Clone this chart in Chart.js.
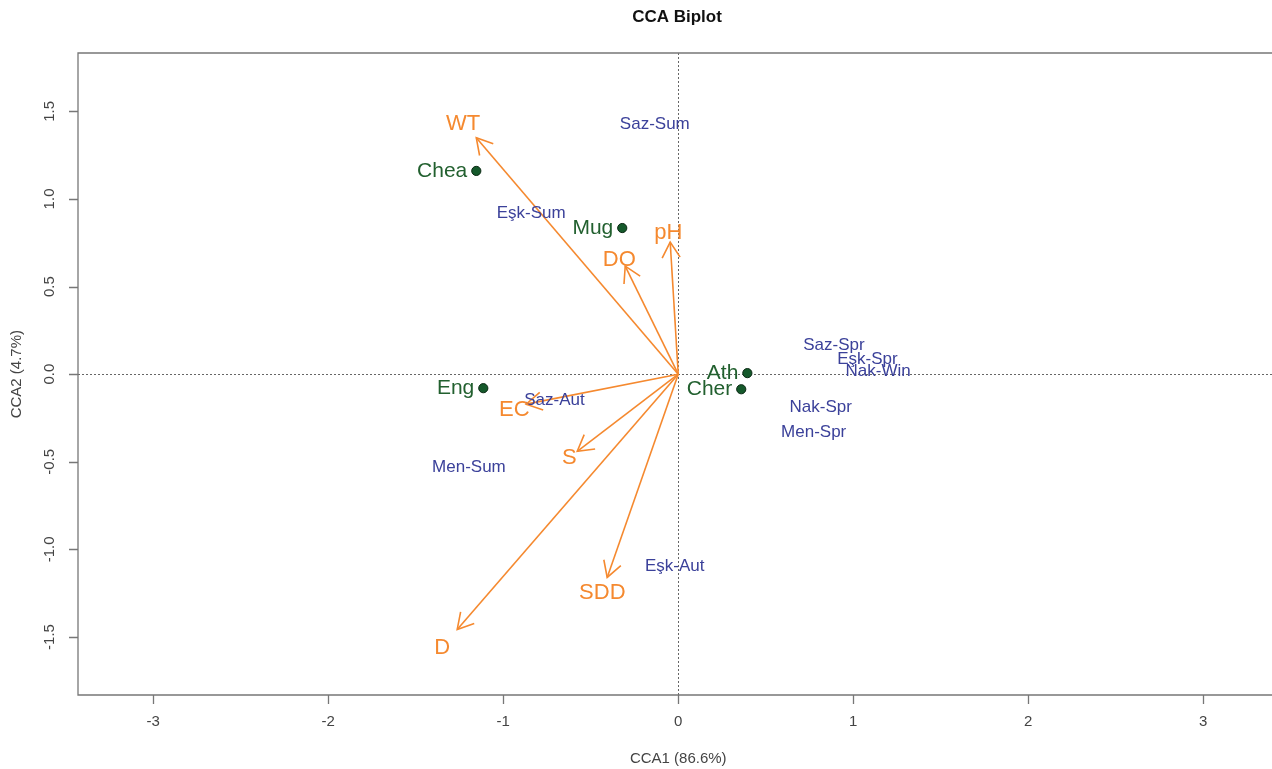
<!DOCTYPE html>
<html>
<head>
<meta charset="utf-8">
<script src="https://cdn.jsdelivr.net/npm/chart.js@4"></script>
<style>
  html, body { margin: 0; padding: 0; background: #fff; overflow: hidden; }
  #wrap { width: 1272px; height: 769px; }
</style>
</head>
<body>
<div id="wrap"><canvas id="cca" width="1272" height="769"></canvas></div>
<script>
// species scores (green dots)
var speciesNames = ["Chea", "Mug", "Ath", "Cher", "Eng"];
var speciesX = [-1.154, -0.32, 0.395, 0.36, -1.114];
var speciesY = [1.16, 0.834, 0.006, -0.086, -0.08];

// site scores (blue labels)
var siteNames = ["Saz-Sum", "Eşk-Sum", "Saz-Aut", "Men-Sum", "Eşk-Aut", "Saz-Spr", "Eşk-Spr", "Nak-Win", "Nak-Spr", "Men-Spr"];
var siteX = [-0.134, -0.84, -0.707, -1.196, -0.02, 0.89, 1.081, 1.142, 0.814, 0.774];
var siteY = [1.426, 0.918, -0.149, -0.531, -1.095, 0.166, 0.086, 0.017, -0.189, -0.331];

// environmental variables (orange arrows)
var envNames = ["WT", "pH", "DO", "EC", "S", "SDD", "D"];
var envX = [-1.154, -0.046, -0.303, -0.869, -0.577, -0.406, -1.263];
var envY = [1.349, 0.754, 0.617, -0.171, -0.44, -1.16, -1.457];
var envLabelX = [-1.229, -0.057, -0.337, -0.937, -0.623, -0.434, -1.349];
var envLabelY = [1.429, 0.806, 0.651, -0.206, -0.48, -1.246, -1.56];

// axes
var xTicks = [-3, -2, -1, 0, 1, 2, 3];
var yTicks = [-1.5, -1.0, -0.5, 0.0, 0.5, 1.0, 1.5];
var xTickLabels = ["-3", "-2", "-1", "0", "1", "2", "3"];
var yTickLabels = ["-1.5", "-1.0", "-0.5", "0.0", "0.5", "1.0", "1.5"];

var ORANGE = "#f5892f";
var BLUE = "#3b419a";
var GREEN = "#22602f";
var FONT = "'Liberation Sans', Arial, sans-serif";

var datasets = [];
for (var i = 0; i < envNames.length; i++) {
    datasets.push({
        label: envNames[i],
        data: [{x: 0, y: 0}, {x: envX[i], y: envY[i]}],
        showLine: true,
        borderColor: ORANGE,
        borderWidth: 1.6,
        pointRadius: 0
    });
}
datasets.push({
    label: "sites",
    data: siteX.map(function(v, i) { return {x: v, y: siteY[i]}; }),
    pointRadius: 0
});
datasets.push({
    label: "species",
    data: speciesX.map(function(v, i) { return {x: v, y: speciesY[i]}; }),
    pointRadius: 4.6,
    backgroundColor: "#15592b",
    borderColor: "#0b2a14",
    borderWidth: 1
});

var biplot = {
    id: "biplot",
    beforeDraw: function(chart) {
        var ctx = chart.ctx;
        ctx.save();
        ctx.fillStyle = "#fff";
        ctx.fillRect(0, 0, chart.width, chart.height);
        ctx.restore();
    },
    beforeDatasetsDraw: function(chart) {
        var ctx = chart.ctx, a = chart.chartArea;
        var xs = chart.scales.x, ys = chart.scales.y;
        var x0 = xs.getPixelForValue(0), y0 = ys.getPixelForValue(0);
        ctx.save();
        ctx.strokeStyle = "#666";
        ctx.lineWidth = 1;
        ctx.setLineDash([2, 2]);
        ctx.beginPath();
        ctx.moveTo(Math.round(x0) + 0.5, a.top);
        ctx.lineTo(Math.round(x0) + 0.5, a.bottom);
        ctx.moveTo(a.left, Math.round(y0) + 0.5);
        ctx.lineTo(a.right, Math.round(y0) + 0.5);
        ctx.stroke();
        ctx.restore();
    },
    afterDatasetsDraw: function(chart) {
        var ctx = chart.ctx, a = chart.chartArea;
        var xs = chart.scales.x, ys = chart.scales.y;
        var x0 = xs.getPixelForValue(0), y0 = ys.getPixelForValue(0);
        ctx.save();

        // arrow heads
        ctx.strokeStyle = ORANGE;
        ctx.lineWidth = 1.6;
        for (var i = 0; i < envNames.length; i++) {
            var tx = xs.getPixelForValue(envX[i]), ty = ys.getPixelForValue(envY[i]);
            var ang = Math.atan2(y0 - ty, x0 - tx);
            var len = 18, spread = Math.PI / 6;
            ctx.beginPath();
            ctx.moveTo(tx + len * Math.cos(ang + spread), ty + len * Math.sin(ang + spread));
            ctx.lineTo(tx, ty);
            ctx.lineTo(tx + len * Math.cos(ang - spread), ty + len * Math.sin(ang - spread));
            ctx.stroke();
        }

        // site labels
        ctx.textAlign = "center";
        ctx.textBaseline = "middle";
        ctx.fillStyle = BLUE;
        ctx.font = "17px " + FONT;
        for (var i = 0; i < siteNames.length; i++) {
            ctx.fillText(siteNames[i], xs.getPixelForValue(siteX[i]), ys.getPixelForValue(siteY[i]));
        }

        // species labels, left of the dot
        ctx.textAlign = "right";
        ctx.fillStyle = GREEN;
        ctx.font = "21px " + FONT;
        for (var i = 0; i < speciesNames.length; i++) {
            ctx.fillText(speciesNames[i], xs.getPixelForValue(speciesX[i]) - 9, ys.getPixelForValue(speciesY[i]));
        }

        // variable labels
        ctx.textAlign = "center";
        ctx.fillStyle = ORANGE;
        ctx.font = "22px " + FONT;
        for (var i = 0; i < envNames.length; i++) {
            ctx.fillText(envNames[i], xs.getPixelForValue(envLabelX[i]), ys.getPixelForValue(envLabelY[i]));
        }
        ctx.restore();
    },
    afterDraw: function(chart) {
        var ctx = chart.ctx, a = chart.chartArea;
        var xs = chart.scales.x, ys = chart.scales.y;
        ctx.save();

        // box: right side is cut off in the original
        ctx.strokeStyle = "#777";
        ctx.lineWidth = 1.3;
        ctx.setLineDash([]);
        ctx.beginPath();
        ctx.moveTo(a.right, a.top);
        ctx.lineTo(a.left, a.top);
        ctx.lineTo(a.left, a.bottom);
        ctx.lineTo(a.right, a.bottom);
        ctx.stroke();

        // ticks
        ctx.beginPath();
        xTicks.forEach(function(v) {
            var px = Math.round(xs.getPixelForValue(v)) + 0.5;
            ctx.moveTo(px, a.bottom);
            ctx.lineTo(px, a.bottom + 9);
        });
        yTicks.forEach(function(v) {
            var py = Math.round(ys.getPixelForValue(v)) + 0.5;
            ctx.moveTo(a.left, py);
            ctx.lineTo(a.left - 9, py);
        });
        ctx.stroke();

        ctx.fillStyle = "#444";
        ctx.font = "15px " + FONT;
        ctx.textAlign = "center";
        ctx.textBaseline = "middle";
        xTicks.forEach(function(v, i) {
            ctx.fillText(xTickLabels[i], xs.getPixelForValue(v), 722);
        });
        yTicks.forEach(function(v, i) {
            ctx.save();
            ctx.translate(50, ys.getPixelForValue(v));
            ctx.rotate(-Math.PI / 2);
            ctx.fillText(yTickLabels[i], 0, 0);
            ctx.restore();
        });

        // axis titles
        ctx.fillText("CCA1 (86.6%)", xs.getPixelForValue(0), 759);
        ctx.save();
        ctx.translate(17, ys.getPixelForValue(0));
        ctx.rotate(-Math.PI / 2);
        ctx.fillText("CCA2 (4.7%)", 0, 0);
        ctx.restore();

        // main title
        ctx.fillStyle = "#111";
        ctx.font = "bold 17px " + FONT;
        ctx.fillText("CCA Biplot", 677, 17);
        ctx.restore();
    }
};

var ccaChart = new Chart(document.getElementById("cca").getContext("2d"), {
    type: "scatter",
    data: { datasets: datasets },
    options: {
        responsive: false,
        animation: false,
        layout: { autoPadding: false, padding: { left: 78, top: 53, right: 0, bottom: 74 } },
        plugins: {
            legend: { display: false },
            tooltip: { enabled: false }
        },
        scales: {
            x: { type: "linear", min: -3.43, max: 3.393, display: false },
            y: { type: "linear", min: -1.831, max: 1.833, display: false }
        }
    },
    plugins: [biplot]
});
</script>
</body>
</html>
